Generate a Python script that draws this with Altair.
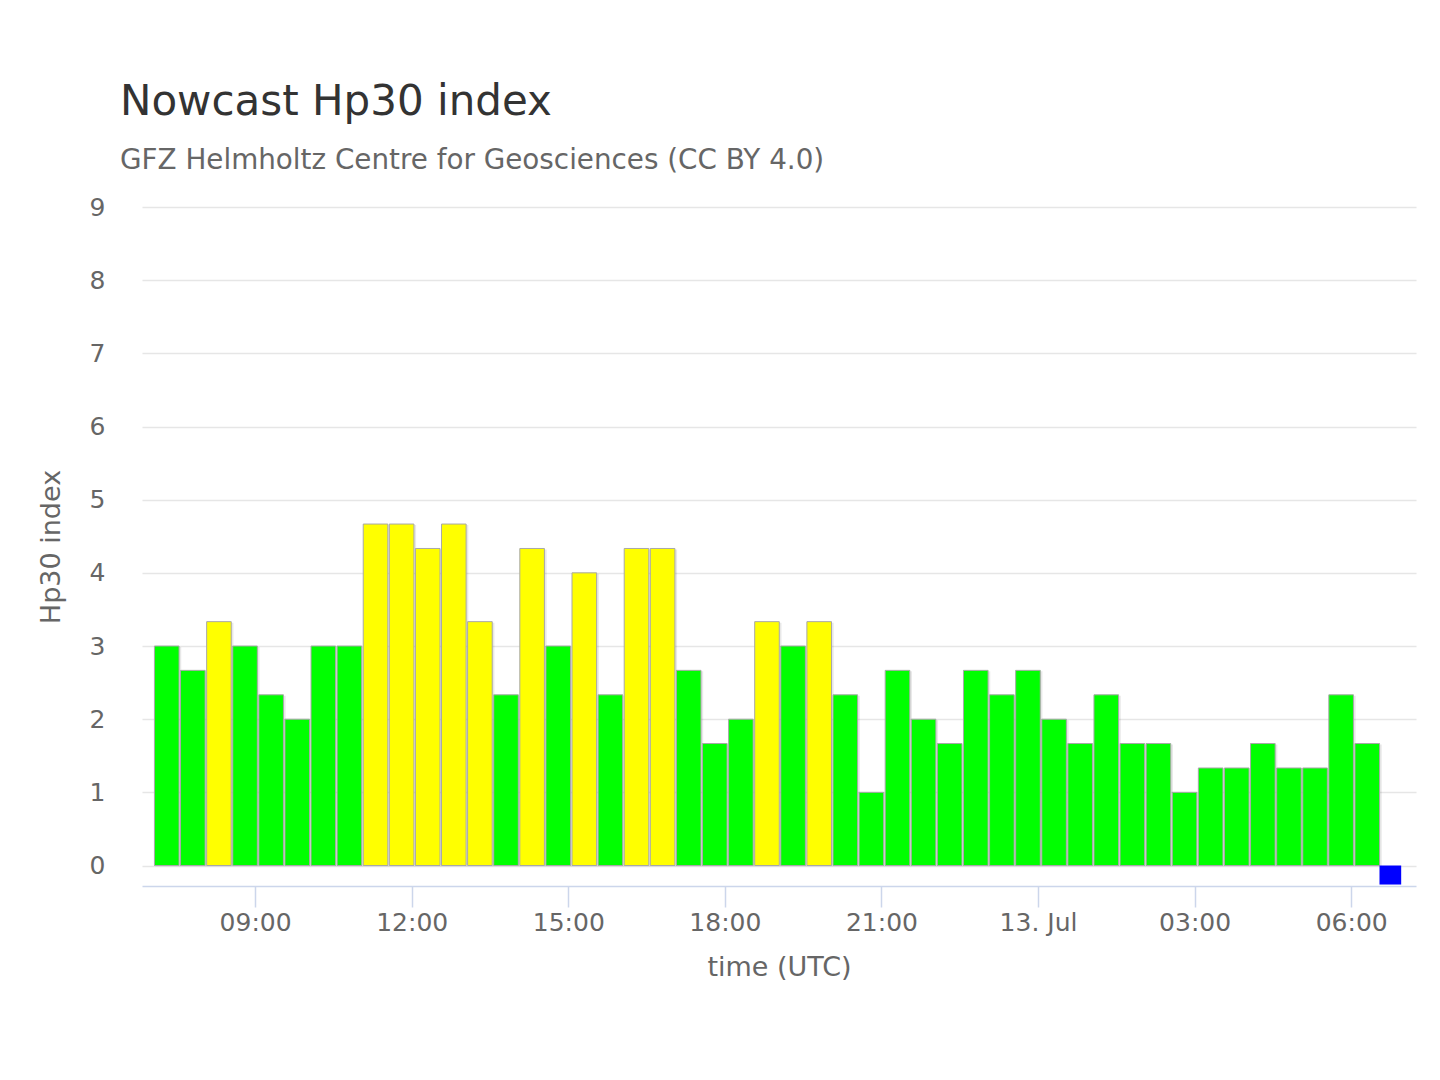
import altair as alt
import pandas as pd

# ---- data ----
first_slot = "2024-07-12T07:00:00Z"      # first 30-min interval start (UTC)
hp30 = [3, 2.667, 3.333, 3, 2.333, 2, 3, 3,
        4.667, 4.667, 4.333, 4.667, 3.333, 2.333, 4.333, 3,
        4, 2.333, 4.333, 4.333, 2.667, 1.667, 2, 3.333,
        3, 3.333, 2.333, 1, 2.667, 2, 1.667, 2.667,
        2.333, 2.667, 2, 1.667, 2.333, 1.667, 1.667, 1,
        1.333, 1.333, 1.667, 1.333, 1.333, 2.333, 1.667]
nowcast_value = [-0.26]                 # pending interval, drawn below zero
levels = ["quiet", "active", "nowcast"]
level_colors = ["#00ff00", "#ffff00", "#0000ff"]
y_ticks = [0, 1, 2, 3, 4, 5, 6, 7, 8, 9]
tick_hours = ["2024-07-12T09:00:00Z", "2024-07-12T12:00:00Z", "2024-07-12T15:00:00Z",
              "2024-07-12T18:00:00Z", "2024-07-12T21:00:00Z", "2024-07-13T00:00:00Z",
              "2024-07-13T03:00:00Z", "2024-07-13T06:00:00Z"]
x_range = ["2024-07-12T06:50:00Z", "2024-07-13T07:14:30Z"]

times = pd.date_range(first_slot, periods=len(hp30) + 1, freq="30min")
df = pd.DataFrame({
    "start": [t.strftime("%Y-%m-%dT%H:%M:%SZ") for t in times[:-1]],
    "hp30": hp30,
    "level": ["active" if v > 3.1 else "quiet" for v in hp30],
})
df_now = pd.DataFrame({
    "start": [times[-1].strftime("%Y-%m-%dT%H:%M:%SZ")],
    "hp30": nowcast_value,
    "level": ["nowcast"],
})

def ms(s):
    return int(pd.Timestamp(s).value // 1_000_000)

FONT = "DejaVu Sans"

xscale = alt.Scale(type="utc", domain=[ms(x_range[0]), ms(x_range[1])], padding=0, nice=False)
yscale = alt.Scale(domain=[-0.28, 9], zero=False, nice=False, padding=0)
color = alt.Color("level:N", scale=alt.Scale(domain=levels, range=level_colors), legend=None)

xaxis = alt.Axis(
    title="time (UTC)", values=[ms(t) for t in tick_hours],
    labelExpr="utcFormat(datum.value, '%H') == '00' ? utcFormat(datum.value, '%d. %b') : utcFormat(datum.value, '%H:%M')",
    grid=False, domainColor="#ccd6eb", domainWidth=1.5, tickColor="#ccd6eb", tickWidth=1.5,
    tickSize=21, labelPadding=3, labelFontSize=25, labelColor="#666666", labelFont=FONT,
    titleFontSize=27, titleColor="#666666", titleFont=FONT, titleFontWeight="normal", titlePadding=19,
    labelFlush=False,
)
yaxis = alt.Axis(
    title="Hp30 index", values=y_ticks, format="d", grid=True, gridColor="#e6e6e6", gridWidth=1.5,
    domain=False, ticks=False, tickSize=0, labelPadding=37, labelFontSize=25,
    labelColor="#666666", labelFont=FONT, titleFontSize=27, titleColor="#666666",
    titleFont=FONT, titleFontWeight="normal", titlePadding=24,
)

mid_expr = "toDate(datum.start) + 15*60*1000"

shadow = alt.Chart(df).transform_calculate(mid=mid_expr).mark_bar(
    width=26, xOffset=4.5, yOffset=1, color="#000000", opacity=0.09
).encode(
    x=alt.X("mid:T", scale=xscale, axis=xaxis),
    y=alt.Y("hp30:Q", scale=yscale, axis=yaxis),
)

bars = alt.Chart(df).transform_calculate(mid=mid_expr).mark_bar(
    width=24.6, xOffset=3, stroke="#a8a8a8", strokeWidth=1
).encode(
    x=alt.X("mid:T", scale=xscale),
    y=alt.Y("hp30:Q", scale=yscale),
    color=color,
)

now = alt.Chart(df_now).transform_calculate(mid=mid_expr).mark_bar(width=21.7).encode(
    x=alt.X("mid:T", scale=xscale),
    y=alt.Y("hp30:Q", scale=yscale),
    color=color,
)

chart = alt.layer(shadow, bars, now).properties(
    width=1274, height=679,
    autosize=alt.AutoSizeParams(type="none"),
    padding={"left": 134, "top": 199, "right": 10, "bottom": 120},
    background="white",
    title=alt.TitleParams(
        text="Nowcast Hp30 index",
        subtitle="GFZ Helmholtz Centre for Geosciences (CC BY 4.0)",
        anchor="start", frame="group", dx=-22, offset=19,
        font=FONT, fontSize=42, fontWeight="normal", color="#333333",
        subtitleFont=FONT, subtitleFontSize=27.8, subtitleColor="#666666", subtitlePadding=23,
    ),
).configure_view(strokeWidth=0)

chart.save("out.html", embed_options={"renderer": "svg", "actions": False})
